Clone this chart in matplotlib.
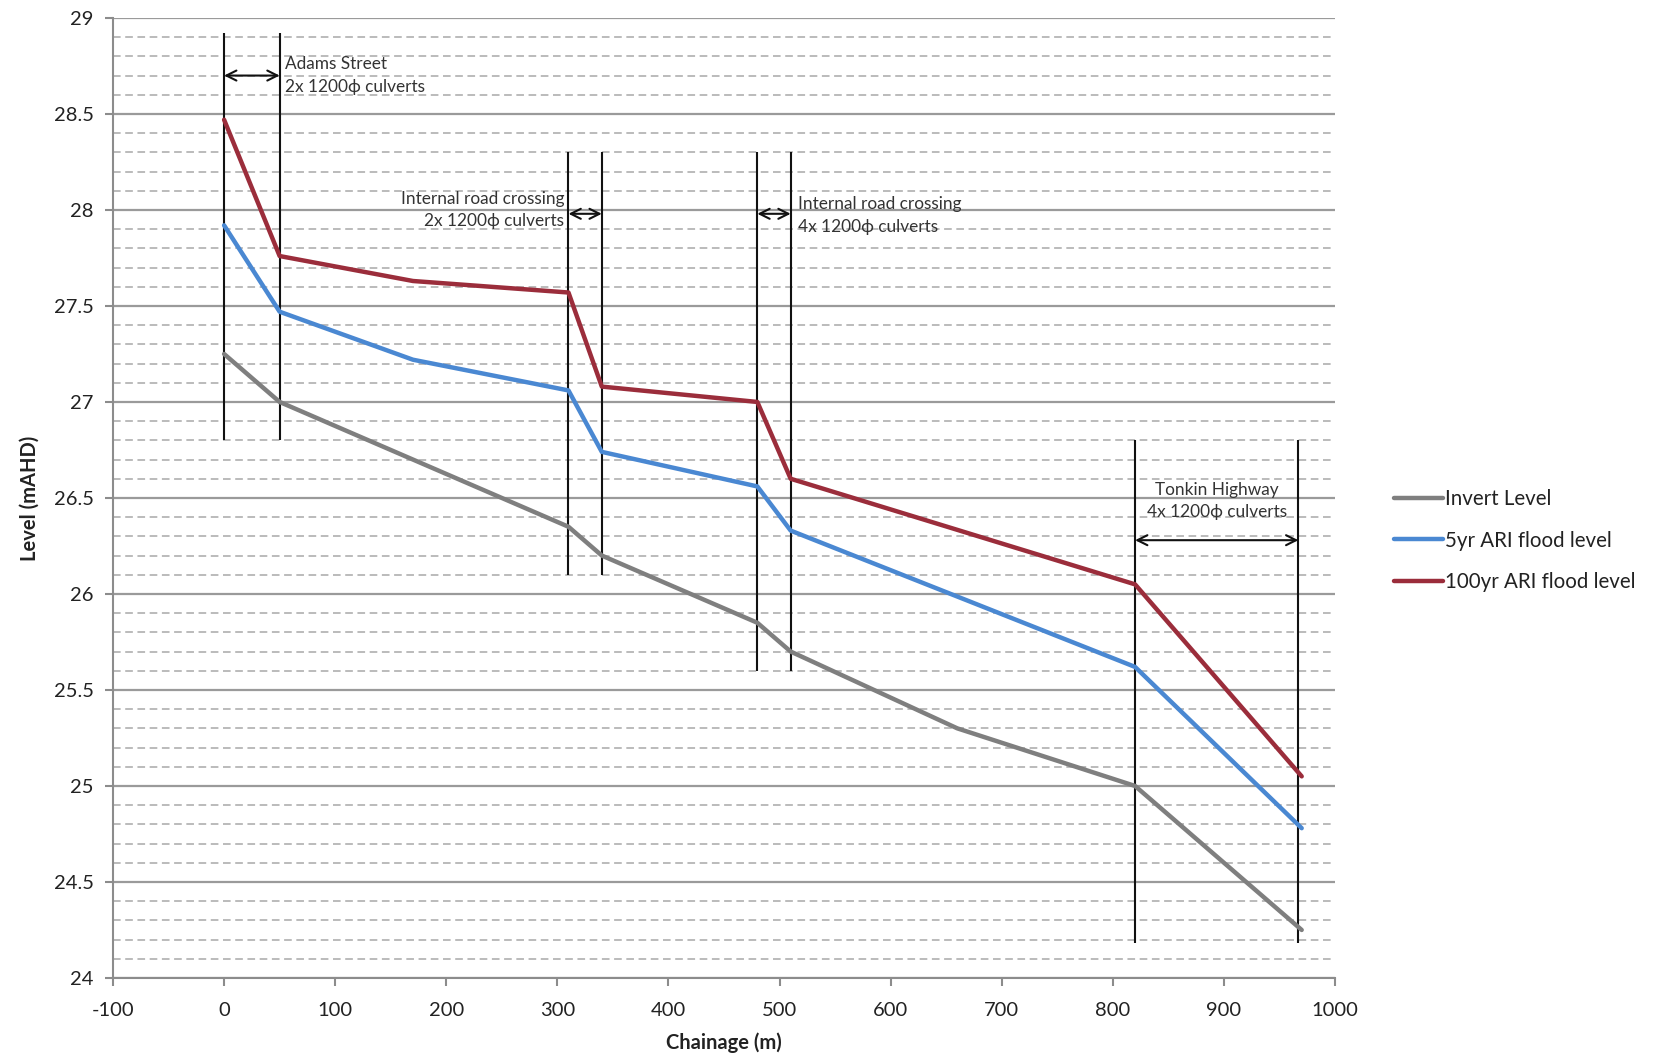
import matplotlib
matplotlib.use("Agg")
import matplotlib.pyplot as plt
from matplotlib.ticker import MultipleLocator

plt.rcParams['font.family'] = ['Lato', 'DejaVu Sans']
plt.rcParams['axes.unicode_minus'] = False

# Longitudinal section data
chainage_invert = [0, 50, 310, 340, 480, 510, 660, 820, 970]
invert_level = [27.25, 27.00, 26.35, 26.20, 25.85, 25.70, 25.30, 25.00, 24.25]

chainage_flood = [0, 50, 170, 310, 340, 480, 510, 820, 970]
flood_5yr = [27.92, 27.47, 27.22, 27.06, 26.74, 26.56, 26.33, 25.62, 24.78]
flood_100yr = [28.47, 27.76, 27.63, 27.57, 27.08, 27.00, 26.60, 26.05, 25.05]

series_names = ["Invert Level", "5yr ARI flood level", "100yr ARI flood level"]

# Culvert crossings: (start, end, line bottom, line top, arrow level)
crossings = [
    (0, 50, 26.8, 28.92, 28.70),
    (310, 340, 26.1, 28.30, 27.98),
    (480, 510, 25.6, 28.30, 27.98),
    (820, 967, 24.18, 26.80, 26.28),
]
crossing_labels = [
    "Adams Street\n2x 1200\u03d5 culverts",
    "Internal road crossing\n2x 1200\u03d5 culverts",
    "Internal road crossing\n4x 1200\u03d5 culverts",
    "Tonkin Highway\n4x 1200\u03d5 culverts",
]

fig = plt.figure(figsize=(16.69, 10.56), dpi=100)
ax = fig.add_axes([0.0677, 0.0739, 0.7322, 0.9091])

ax.set_xlim(-100, 1000)
ax.set_ylim(24, 29)
ax.xaxis.set_major_locator(MultipleLocator(100))
ax.yaxis.set_major_locator(MultipleLocator(0.5))
ax.yaxis.set_minor_locator(MultipleLocator(0.1))

ax.grid(which='major', axis='y', color='#9a9a9a', lw=1.6, ls='-')
ax.grid(which='minor', axis='y', color='#a8a8a8', lw=1.1, ls=(0, (5, 3)))
ax.set_axisbelow(True)

for s in ['top', 'right']:
    ax.spines[s].set_visible(False)
for s in ['left', 'bottom']:
    ax.spines[s].set_color('#8c8c8c')
    ax.spines[s].set_linewidth(1.5)

ax.tick_params(axis='both', which='major', direction='out', length=6, width=1.5,
               color='#8c8c8c', labelsize=14.5, labelcolor='#222222')
ax.tick_params(axis='x', which='major', pad=11)
ax.tick_params(axis='y', which='major', pad=8)
ax.tick_params(axis='y', which='minor', length=0)
ax.set_yticks(ax.get_yticks())
ax.set_yticklabels([f"{v:g}" for v in ax.get_yticks()])
ax.set_ylim(24, 29)

ax.set_xlabel("Chainage (m)", fontsize=14.5, fontweight='bold', color='#222222', labelpad=10)
ax.set_ylabel("Level (mAHD)", fontsize=14.5, fontweight='bold', color='#222222', labelpad=10)

colors = ['#7f7f7f', '#4a88d2', '#9b2d3b']
l1, = ax.plot(chainage_invert, invert_level, color=colors[0], lw=3.2, zorder=4,
              solid_capstyle='round')
l2, = ax.plot(chainage_flood, flood_5yr, color=colors[1], lw=3.2, zorder=4,
              solid_capstyle='round')
l3, = ax.plot(chainage_flood, flood_100yr, color=colors[2], lw=3.2, zorder=5,
              solid_capstyle='round')

for (x0, x1, yb, yt, ya) in crossings:
    ax.vlines([x0, x1], yb, yt, color='#111111', lw=1.5, zorder=3)
    ax.annotate("", xy=(x0, ya), xytext=(x1, ya),
                arrowprops=dict(arrowstyle='<->', color='#111111', lw=1.5,
                                shrinkA=0, shrinkB=0, mutation_scale=18),
                zorder=6)

txt = dict(fontsize=12.4, color='#333333', linespacing=1.5, zorder=7)
ax.text(55, 28.70, crossing_labels[0], ha='left', va='center', **txt)
ax.text(306, 28.00, crossing_labels[1], ha='right', va='center', **txt)
ax.text(517, 27.97, crossing_labels[2], ha='left', va='center', **txt)
ax.text(894, 26.485, crossing_labels[3], ha='center', va='center', **txt)

leg = fig.legend([l1, l2, l3], series_names, loc='center left',
                 bbox_to_anchor=(0.824, 0.488), frameon=False, fontsize=14.8,
                 handlelength=2.4, handletextpad=0.1, labelspacing=1.05)
for t in leg.get_texts():
    t.set_color('#222222')

fig.savefig("out.png", dpi=100)
